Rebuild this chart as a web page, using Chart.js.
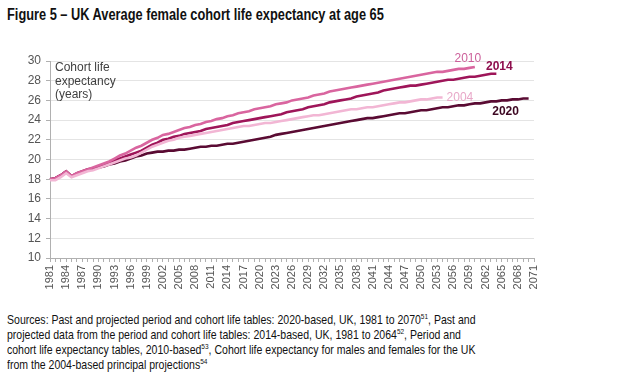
<!DOCTYPE html>
<html>
<head>
<meta charset="utf-8">
<script src="https://cdn.jsdelivr.net/npm/chart.js@4/dist/chart.umd.min.js"></script>
<style>
    body { margin: 0; background: #fff; width: 634px; height: 385px; overflow: hidden; font-family: "Liberation Sans", Arial, sans-serif; }
    #title { position: absolute; left: 7px; top: 6px; font-size: 16px; font-weight: bold; color: #111; white-space: nowrap; transform: scaleX(0.8); transform-origin: left top; }
    #wrap { position: absolute; left: 0; top: 0; width: 634px; height: 300px; }
    #sources { position: absolute; left: 7px; top: 312px; font-size: 13px; line-height: 15px; color: #111; white-space: nowrap; transform: scaleX(0.81); transform-origin: left top; }
    #sources sup { font-size: 8px; vertical-align: 5px; line-height: 0; }
</style>
</head>
<body>
<div id="title">Figure 5 – UK Average female cohort life expectancy at age 65</div>
<div id="wrap"><canvas id="lifeChart"></canvas></div>
<div id="sources">
Sources: Past and projected period and cohort life tables: 2020-based, UK, 1981 to 2070<sup>51</sup>, Past and<br>
projected data from the period and cohort life tables: 2014-based, UK, 1981 to 2064<sup>52</sup>, Period and<br>
cohort life expectancy tables, 2010-based<sup>53</sup>, Cohort life expectancy for males and females for the UK<br>
from the 2004-based principal projections<sup>54</sup>
</div>
<script>
const years = [
    "1981", "1982", "1983", "1984", "1985", "1986", "1987", "1988", "1989", "1990",
    "1991", "1992", "1993", "1994", "1995", "1996", "1997", "1998", "1999", "2000",
    "2001", "2002", "2003", "2004", "2005", "2006", "2007", "2008", "2009", "2010",
    "2011", "2012", "2013", "2014", "2015", "2016", "2017", "2018", "2019", "2020",
    "2021", "2022", "2023", "2024", "2025", "2026", "2027", "2028", "2029", "2030",
    "2031", "2032", "2033", "2034", "2035", "2036", "2037", "2038", "2039", "2040",
    "2041", "2042", "2043", "2044", "2045", "2046", "2047", "2048", "2049", "2050",
    "2051", "2052", "2053", "2054", "2055", "2056", "2057", "2058", "2059", "2060",
    "2061", "2062", "2063", "2064", "2065", "2066", "2067", "2068", "2069", "2070",
    "2071",
];

// 2010-based, 1981 to 2060
const based2010 = [
    18.0, 18.1, 18.4, 18.8, 18.3, 18.6, 18.8, 19.0, 19.2, 19.4,
    19.6, 19.8, 20.1, 20.4, 20.6, 20.9, 21.2, 21.4, 21.7, 22.0,
    22.2, 22.5, 22.6, 22.8, 23.0, 23.2, 23.3, 23.5, 23.6, 23.8,
    23.9, 24.1, 24.2, 24.4, 24.5, 24.7, 24.8, 24.9, 25.1, 25.2,
    25.3, 25.4, 25.6, 25.7, 25.8, 26.0, 26.1, 26.2, 26.3, 26.5,
    26.6, 26.7, 26.9, 27.0, 27.1, 27.2, 27.3, 27.4, 27.5, 27.6,
    27.7, 27.8, 27.9, 28.0, 28.1, 28.2, 28.3, 28.4, 28.5, 28.6,
    28.7, 28.8, 28.9, 28.9, 29.0, 29.1, 29.2, 29.2, 29.3, 29.4,
];

// 2014-based, 1981 to 2064
const based2014 = [
    18.0, 18.1, 18.4, 18.8, 18.3, 18.6, 18.8, 19.0, 19.1, 19.3,
    19.5, 19.7, 19.9, 20.1, 20.3, 20.5, 20.7, 20.9, 21.2, 21.5,
    21.7, 22.0, 22.1, 22.3, 22.4, 22.6, 22.7, 22.8, 22.9, 23.1,
    23.2, 23.3, 23.4, 23.5, 23.7, 23.8, 23.9, 24.0, 24.1, 24.2,
    24.3, 24.4, 24.5, 24.6, 24.8, 24.9, 25.0, 25.1, 25.3, 25.4,
    25.5, 25.6, 25.8, 25.9, 26.0, 26.1, 26.2, 26.4, 26.5, 26.6,
    26.7, 26.8, 27.0, 27.1, 27.2, 27.3, 27.4, 27.5, 27.5, 27.6,
    27.7, 27.8, 27.9, 28.0, 28.1, 28.1, 28.2, 28.3, 28.4, 28.4,
    28.5, 28.6, 28.7, 28.7,
];

// 2004-based, 1981 to 2054
const based2004 = [
    17.9, 17.9, 18.2, 18.6, 18.2, 18.4, 18.6, 18.8, 18.9, 19.1,
    19.3, 19.5, 19.7, 19.9, 20.1, 20.2, 20.4, 20.7, 21.0, 21.3,
    21.5, 21.7, 21.9, 22.0, 22.2, 22.3, 22.4, 22.5, 22.6, 22.7,
    22.8, 22.9, 23.0, 23.1, 23.2, 23.3, 23.4, 23.4, 23.5, 23.6,
    23.7, 23.7, 23.8, 23.9, 24.0, 24.1, 24.2, 24.3, 24.4, 24.5,
    24.5, 24.6, 24.7, 24.8, 24.9, 25.0, 25.1, 25.1, 25.2, 25.3,
    25.3, 25.4, 25.5, 25.6, 25.7, 25.8, 25.8, 25.9, 26.0, 26.1,
    26.1, 26.2, 26.3, 26.3,
];

// 2020-based, 1981 to 2070
const based2020 = [
    18.0, 18.1, 18.4, 18.8, 18.3, 18.5, 18.7, 18.9, 19.0, 19.2,
    19.3, 19.5, 19.6, 19.8, 19.9, 20.1, 20.3, 20.4, 20.6, 20.7,
    20.8, 20.8, 20.9, 20.9, 21.0, 21.0, 21.1, 21.2, 21.3, 21.3,
    21.4, 21.4, 21.5, 21.6, 21.6, 21.7, 21.8, 21.9, 22.0, 22.1,
    22.2, 22.3, 22.5, 22.6, 22.7, 22.8, 22.9, 23.0, 23.1, 23.2,
    23.3, 23.4, 23.5, 23.6, 23.7, 23.8, 23.9, 24.0, 24.1, 24.2,
    24.2, 24.3, 24.4, 24.5, 24.6, 24.7, 24.7, 24.8, 24.9, 25.0,
    25.0, 25.1, 25.2, 25.3, 25.3, 25.4, 25.5, 25.5, 25.6, 25.7,
    25.7, 25.8, 25.9, 25.9, 26.0, 26.0, 26.1, 26.1, 26.2, 26.2,
];

const seriesNames = ["2004", "2010", "2014", "2020"];

// end-of-line labels
const endLabels = {
    id: "endLabels",
    afterDatasetsDraw(chart) {
        const ctx = chart.ctx;
        const spots = [
            { i: 0, dx: 4, dy: 0, align: "left", bold: false },
            { i: 1, dx: -7, dy: -8, align: "center", bold: false },
            { i: 2, dx: 3, dy: -7, align: "center", bold: true },
            { i: 3, dx: -23, dy: 13, align: "center", bold: true },
        ];
        ctx.save();
        ctx.textBaseline = "middle";
        spots.forEach((s) => {
            const ds = chart.data.datasets[s.i];
            const pts = chart.getDatasetMeta(s.i).data;
            const p = pts[pts.length - 1];
            ctx.font = (s.bold ? "bold " : "") + "12px 'Liberation Sans', Arial, sans-serif";
            ctx.fillStyle = ds.labelColor;
            ctx.textAlign = s.align;
            ctx.fillText(seriesNames[s.i], p.x + s.dx, p.y + s.dy);
        });

        // axis title inside the plot
        const area = chart.chartArea;
        ctx.font = "12px 'Liberation Sans', Arial, sans-serif";
        ctx.fillStyle = "#404040";
        ctx.textAlign = "left";
        ctx.textBaseline = "middle";
        ["Cohort life", "expectancy", "(years)"].forEach((t, k) => {
            ctx.fillText(t, area.left + 5, area.top + 7 + k * 13.5);
        });
        ctx.restore();
    },
};

function renderLifeChart() {
    const ctx = document.getElementById("lifeChart").getContext("2d");

    new Chart(ctx, {
        type: "line",
        data: {
            labels: years,
            datasets: [
                { label: "2004", data: based2004, borderColor: "#f2b6d4", labelColor: "#e8a8c8" },
                { label: "2010", data: based2010, borderColor: "#d9659f", labelColor: "#cc5f9a" },
                { label: "2014", data: based2014, borderColor: "#9e1559", labelColor: "#8e0f4e" },
                { label: "2020", data: based2020, borderColor: "#5a0b33", labelColor: "#3d0722" },
            ].map((d) => ({ ...d, borderWidth: 2.6, pointRadius: 0, tension: 0, fill: false })),
        },
        options: {
            responsive: true,
            maintainAspectRatio: false,
            animation: false,
            layout: { padding: { left: 0, right: 100, top: 61, bottom: 0 } },
            plugins: {
                legend: { display: false },
                tooltip: { enabled: false },
            },
            scales: {
                x: {
                    offset: false,
                    afterFit: (scale) => { scale.height = 42; },
                    grid: { drawOnChartArea: false, tickLength: 4, color: "#b0b0b0", tickColor: "#b0b0b0" },
                    border: { color: "#b0b0b0" },
                    ticks: {
                        autoSkip: false,
                        minRotation: 90,
                        maxRotation: 90,
                        padding: 3,
                        color: "#555",
                        font: { family: "'Liberation Sans', Arial, sans-serif", size: 11 },
                        callback: function (val, index) {
                            return index % 3 === 0 ? this.getLabelForValue(val) : "";
                        },
                    },
                },
                y: {
                    min: 10,
                    max: 30,
                    afterFit: (scale) => { scale.width = 50; },
                    grid: { color: "#e4e4e4", tickLength: 4, tickColor: "#b0b0b0" },
                    border: { color: "#b0b0b0" },
                    ticks: {
                        stepSize: 2,
                        padding: 5,
                        color: "#555",
                        font: { family: "'Liberation Sans', Arial, sans-serif", size: 12 },
                    },
                },
            },
        },
        plugins: [endLabels],
    });
}

document.addEventListener("DOMContentLoaded", renderLifeChart);
</script>
</body>
</html>
